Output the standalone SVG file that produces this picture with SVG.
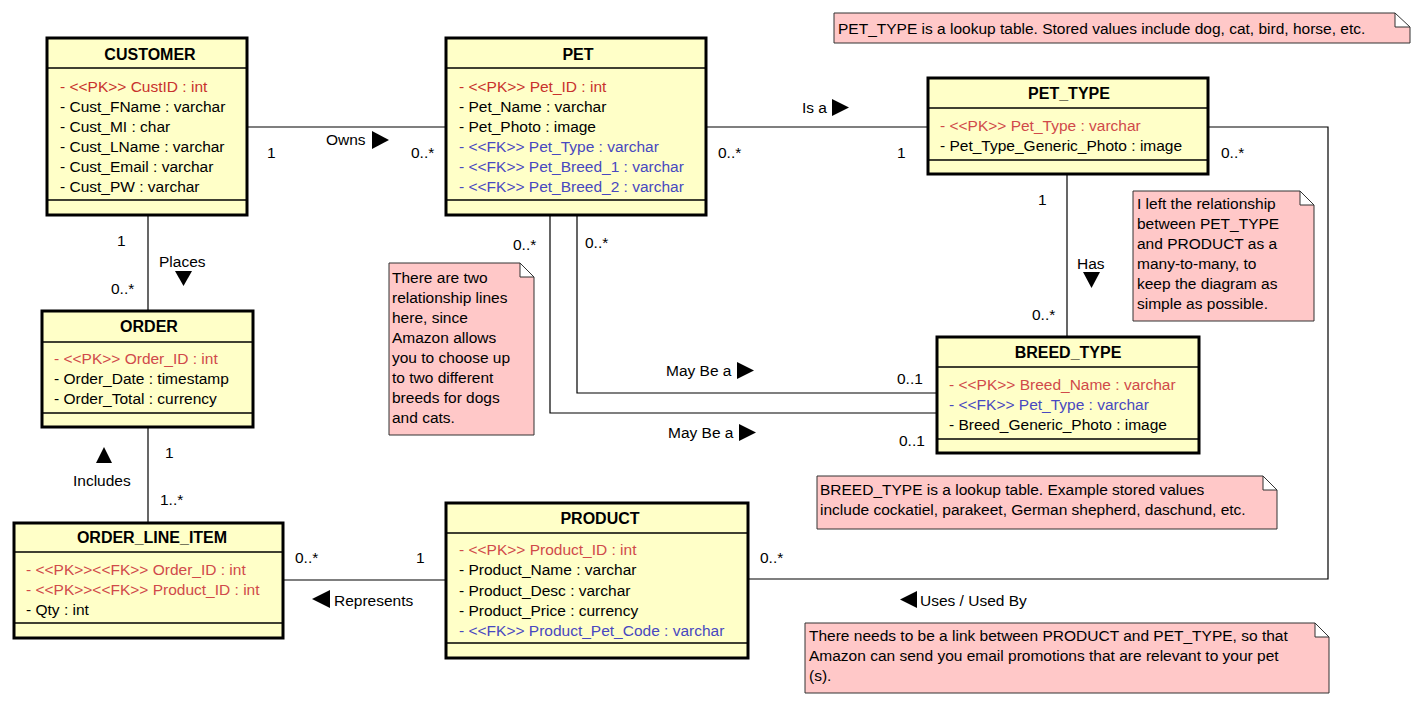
<svg xmlns="http://www.w3.org/2000/svg" width="1424" height="706" viewBox="0 0 1424 706">
<style>
text{font-family:"Liberation Sans",Arial,sans-serif;font-size:15.5px;fill:#000}
.t{font-weight:bold;text-anchor:middle;font-size:16px}
.pk{fill:#c8322d}
.pk2{fill:#d04a4a}
.fk{fill:#4848c0}
.box{fill:#ffffc8;stroke:#000;stroke-width:3}
.sep{stroke:#000;stroke-width:1.5}
.note{fill:#ffc8c8;stroke:#333;stroke-width:1}
.ln{fill:none;stroke:#000;stroke-width:1.2}
.ar{fill:#000}
</style>
<rect width="1424" height="706" fill="#fff"/>
<g id="connectors">
<line class="ln" x1="247" y1="127" x2="446" y2="127"/>
<line class="ln" x1="706" y1="127" x2="927" y2="127"/>
<line class="ln" x1="1067" y1="175" x2="1067" y2="336"/>
<polyline class="ln" points="577,215 577,393 936,393"/>
<polyline class="ln" points="550,215 550,413 936,413"/>
<line class="ln" x1="148" y1="215" x2="148" y2="310"/>
<line class="ln" x1="148" y1="428" x2="148" y2="522"/>
<line class="ln" x1="283" y1="580" x2="446" y2="580"/>
<polyline class="ln" points="749,579 1328,579 1328,127 1209,127"/>
<text x="267" y="158">1</text>
<text x="326" y="145">Owns</text>
<polygon class="ar" points="372,131 389,140 372,149"/>
<text x="411" y="158">0..*</text>
<text x="802" y="113">Is a</text>
<polygon class="ar" points="832,99 849,107.5 832,116"/>
<text x="718" y="158">0..*</text>
<text x="897" y="158">1</text>
<text x="1038" y="205">1</text>
<text x="1077" y="269">Has</text>
<polygon class="ar" points="1083,272 1100,272 1091.5,288"/>
<text x="1032" y="320">0..*</text>
<text x="1221" y="158">0..*</text>
<text x="513" y="250">0..*</text>
<text x="585" y="248">0..*</text>
<text x="666" y="376">May Be a</text>
<polygon class="ar" points="737,362 754,370.5 737,379"/>
<text x="897" y="384">0..1</text>
<text x="668" y="438">May Be a</text>
<polygon class="ar" points="739,424 756,432.5 739,441"/>
<text x="899" y="446">0..1</text>
<text x="117" y="246">1</text>
<text x="159" y="267">Places</text>
<polygon class="ar" points="175,271 192,271 183.5,286"/>
<text x="111" y="294">0..*</text>
<text x="165" y="458">1</text>
<polygon class="ar" points="96,463 112,463 104,447"/>
<text x="73" y="486">Includes</text>
<text x="160" y="505">1..*</text>
<text x="295" y="563">0..*</text>
<text x="416" y="563">1</text>
<polygon class="ar" points="330,590 330,608 312,599"/>
<text x="334" y="606">Represents</text>
<text x="760" y="563">0..*</text>
<polygon class="ar" points="917,591 917,608 900,599.5"/>
<text x="920" y="606">Uses / Used By</text>
</g>
<g id="CUSTOMER">
<rect class="box" x="47" y="38" width="200" height="177"/>
<line class="sep" x1="47" y1="68" x2="247" y2="68"/>
<line class="sep" x1="47" y1="200" x2="247" y2="200"/>
<text class="t" x="150" y="60">CUSTOMER</text>
<text x="60" y="91.5" class="pk">- &lt;&lt;PK&gt;&gt; CustID : int</text>
<text x="60" y="111.5">- Cust_FName : varchar</text>
<text x="60" y="131.5">- Cust_MI : char</text>
<text x="60" y="151.5">- Cust_LName : varchar</text>
<text x="60" y="171.5">- Cust_Email : varchar</text>
<text x="60" y="191.5">- Cust_PW : varchar</text>
</g>
<g id="PET">
<rect class="box" x="446" y="38" width="260" height="177"/>
<line class="sep" x1="446" y1="68" x2="706" y2="68"/>
<line class="sep" x1="446" y1="200" x2="706" y2="200"/>
<text class="t" x="578" y="60">PET</text>
<text x="459" y="91.5" class="pk">- &lt;&lt;PK&gt;&gt; Pet_ID : int</text>
<text x="459" y="111.5">- Pet_Name : varchar</text>
<text x="459" y="131.5">- Pet_Photo : image</text>
<text x="459" y="151.5" class="fk">- &lt;&lt;FK&gt;&gt; Pet_Type : varchar</text>
<text x="459" y="171.5" class="fk">- &lt;&lt;FK&gt;&gt; Pet_Breed_1 : varchar</text>
<text x="459" y="191.5" class="fk">- &lt;&lt;FK&gt;&gt; Pet_Breed_2 : varchar</text>
</g>
<g id="PET_TYPE">
<rect class="box" x="928" y="78" width="280" height="96"/>
<line class="sep" x1="928" y1="108" x2="1208" y2="108"/>
<line class="sep" x1="928" y1="160" x2="1208" y2="160"/>
<text class="t" x="1069" y="99">PET_TYPE</text>
<text x="940" y="130.5" class="pk2">- &lt;&lt;PK&gt;&gt; Pet_Type : varchar</text>
<text x="940" y="150.5">- Pet_Type_Generic_Photo : image</text>
</g>
<g id="ORDER">
<rect class="box" x="42" y="311" width="211" height="116"/>
<line class="sep" x1="42" y1="342" x2="253" y2="342"/>
<line class="sep" x1="42" y1="413" x2="253" y2="413"/>
<text class="t" x="149" y="332">ORDER</text>
<text x="54" y="363.5" class="pk2">- &lt;&lt;PK&gt;&gt; Order_ID : int</text>
<text x="54" y="383.5">- Order_Date : timestamp</text>
<text x="54" y="403.5">- Order_Total : currency</text>
</g>
<g id="ORDER_LINE_ITEM">
<rect class="box" x="14" y="523" width="269" height="115"/>
<line class="sep" x1="14" y1="552" x2="283" y2="552"/>
<line class="sep" x1="14" y1="623" x2="283" y2="623"/>
<text class="t" x="152" y="543">ORDER_LINE_ITEM</text>
<text x="26" y="574.5" class="pk2">- &lt;&lt;PK&gt;&gt;&lt;&lt;FK&gt;&gt; Order_ID : int</text>
<text x="26" y="594.5" class="pk2">- &lt;&lt;PK&gt;&gt;&lt;&lt;FK&gt;&gt; Product_ID : int</text>
<text x="26" y="614.5">- Qty : int</text>
</g>
<g id="PRODUCT">
<rect class="box" x="446" y="503" width="302" height="155"/>
<line class="sep" x1="446" y1="533" x2="748" y2="533"/>
<line class="sep" x1="446" y1="643" x2="748" y2="643"/>
<text class="t" x="600" y="524">PRODUCT</text>
<text x="459" y="554.5" class="pk2">- &lt;&lt;PK&gt;&gt; Product_ID : int</text>
<text x="459" y="574.5">- Product_Name : varchar</text>
<text x="459" y="595.5">- Product_Desc : varchar</text>
<text x="459" y="615.5">- Product_Price : currency</text>
<text x="459" y="635.5" class="fk">- &lt;&lt;FK&gt;&gt; Product_Pet_Code : varchar</text>
</g>
<g id="BREED_TYPE">
<rect class="box" x="937" y="337" width="262" height="116"/>
<line class="sep" x1="937" y1="367" x2="1199" y2="367"/>
<line class="sep" x1="937" y1="439" x2="1199" y2="439"/>
<text class="t" x="1068" y="358">BREED_TYPE</text>
<text x="949" y="389.5" class="pk2">- &lt;&lt;PK&gt;&gt; Breed_Name : varchar</text>
<text x="949" y="409.5" class="fk">- &lt;&lt;FK&gt;&gt; Pet_Type : varchar</text>
<text x="949" y="429.5">- Breed_Generic_Photo : image</text>
</g>
<g id="note_pet_type">
<path class="note" d="M834,13 H1395 L1410,27 V43 H834 Z M1395,13 V27 H1410"/>
<text x="838" y="33.5">PET_TYPE is a lookup table. Stored values include dog, cat, bird, horse, etc.</text>
</g>
<g id="note_many">
<path class="note" d="M1133,191 H1300 L1314,205 V321 H1133 Z M1300,191 V205 H1314"/>
<text x="1137" y="208.5">I left the relationship</text>
<text x="1137" y="228.5">between PET_TYPE</text>
<text x="1137" y="248.5">and PRODUCT as a</text>
<text x="1137" y="268.5">many-to-many, to</text>
<text x="1137" y="288.5">keep the diagram as</text>
<text x="1137" y="308.5">simple as possible.</text>
</g>
<g id="note_two">
<path class="note" d="M389,263 H520 L534,277 V435 H389 Z M520,263 V277 H534"/>
<text x="392" y="282.5">There are two</text>
<text x="392" y="302.5">relationship lines</text>
<text x="392" y="322.5">here, since</text>
<text x="392" y="342.5">Amazon allows</text>
<text x="392" y="362.5">you to choose up</text>
<text x="392" y="382.5">to two different</text>
<text x="392" y="402.5">breeds for dogs</text>
<text x="392" y="422.5">and cats.</text>
</g>
<g id="note_breed">
<path class="note" d="M817,476 H1263 L1277,490 V529 H817 Z M1263,476 V490 H1277"/>
<text x="820" y="494.5">BREED_TYPE is a lookup table. Example stored values</text>
<text x="820" y="514.5">include cockatiel, parakeet, German shepherd, daschund, etc.</text>
</g>
<g id="note_link">
<path class="note" d="M805,623 H1315 L1329,637 V693 H805 Z M1315,623 V637 H1329"/>
<text x="809" y="640.5">There needs to be a link between PRODUCT and PET_TYPE, so that</text>
<text x="809" y="660.5">Amazon can send you email promotions that are relevant to your pet</text>
<text x="809" y="680.5">(s).</text>
</g>
</svg>
